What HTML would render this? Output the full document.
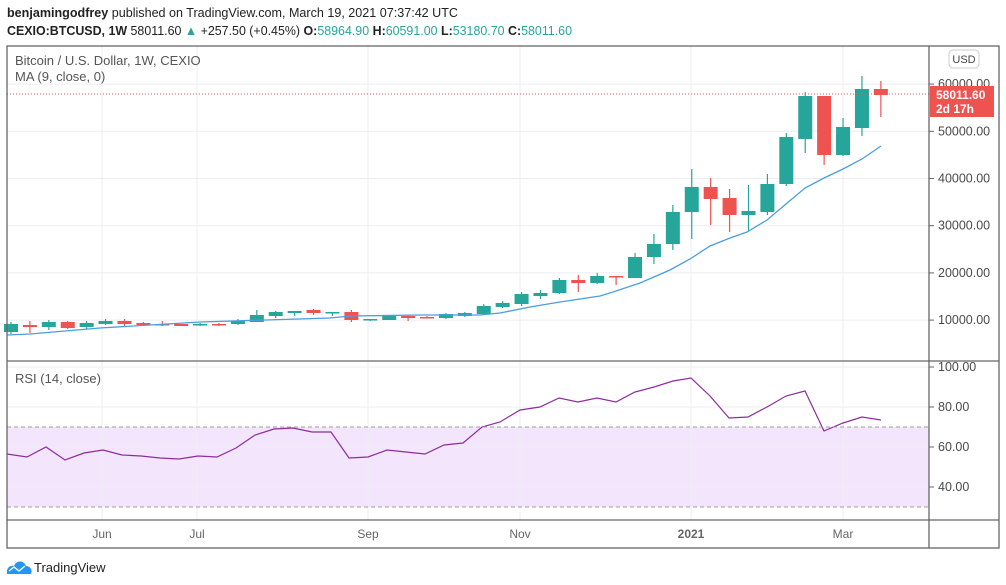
<!DOCTYPE html>
<html><head><meta charset="utf-8"><style>
body{margin:0;background:#fff;width:1006px;height:585px;overflow:hidden}
svg{display:block;font-family:"Liberation Sans",sans-serif}
</style></head><body>
<svg id="s" width="1006" height="585" viewBox="0 0 1006 585">
<text x="7" y="17" font-size="13" fill="#222" textLength="451" lengthAdjust="spacingAndGlyphs"><tspan font-weight="bold">benjamingodfrey</tspan> published on TradingView.com, March 19, 2021 07:37:42 UTC</text>
<text x="7" y="35" font-size="13" fill="#222" textLength="565" lengthAdjust="spacingAndGlyphs"><tspan font-weight="bold">CEXIO:BTCUSD, 1W</tspan> 58011.60 <tspan fill="#26a69a">▲</tspan> +257.50 (+0.45%) <tspan font-weight="bold">O:</tspan><tspan fill="#26a69a">58964.90</tspan> <tspan font-weight="bold">H:</tspan><tspan fill="#26a69a">60591.00</tspan> <tspan font-weight="bold">L:</tspan><tspan fill="#26a69a">53180.70</tspan> <tspan font-weight="bold">C:</tspan><tspan fill="#26a69a">58011.60</tspan></text>
<rect x="7" y="427" width="922" height="80" fill="#f3e5fc"/>
<g id="grid" stroke="#eceef2" stroke-width="1"></g>
<g id="main"></g>
<line x1="7" y1="94" x2="929" y2="94" stroke="#ef5350" stroke-dasharray="1,2"/>
<line x1="7" y1="427" x2="929" y2="427" stroke="#9e9e9e" stroke-dasharray="4,3"/>
<line x1="7" y1="507" x2="929" y2="507" stroke="#9e9e9e" stroke-dasharray="4,3"/>
<g fill="none" stroke="#666" stroke-width="1.3">
<rect x="7" y="46" width="992" height="502"/>
<line x1="929" y1="46" x2="929" y2="548"/>
<line x1="7" y1="361" x2="999" y2="361"/>
<line x1="7" y1="520" x2="999" y2="520"/>
</g>
<text x="15" y="65" font-size="13" fill="#555">Bitcoin / U.S. Dollar, 1W, CEXIO</text>
<text x="15" y="81" font-size="13" fill="#555">MA (9, close, 0)</text>
<text x="15" y="383" font-size="13" fill="#555">RSI (14, close)</text>
<rect x="949" y="50" width="30" height="18" rx="4" fill="#fff" stroke="#ccc"/>
<text x="964" y="63" font-size="11" fill="#444" text-anchor="middle">USD</text>
<g id="ax" font-size="12.5" fill="#4a4a4a"></g>
<rect x="930" y="86" width="64" height="31" fill="#ef5350"/>
<text x="936" y="99" font-size="12" fill="#fff" font-weight="bold">58011.60</text>
<text x="936" y="113" font-size="12" fill="#fff" font-weight="bold">2d 17h</text>
<g font-size="12" fill="#666" text-anchor="middle">
<text x="102" y="538">Jun</text><text x="197" y="538">Jul</text><text x="368" y="538">Sep</text><text x="520" y="538">Nov</text><text x="691" y="538" font-weight="bold">2021</text><text x="843" y="538">Mar</text>
</g>
<path d="M7,574 C6,568 10,565 14,566 C16,560 24,560 26,566 C30,566 33,570 31,574 Z" fill="#2196f3"/>
<path d="M9,571 l5,-4 l5,4 l6,-5" stroke="#fff" fill="none" stroke-width="1.4"/>
<text x="34" y="572" font-size="13" fill="#222">TradingView</text>
</svg>
<script>
const NS="http://www.w3.org/2000/svg";
function el(p,t,a){const e=document.createElementNS(NS,t);for(const k in a)e.setAttribute(k,a[k]);p.appendChild(e);return e;}
const grid=document.getElementById('grid'),main=document.getElementById('main'),ax=document.getElementById('ax');
[102,197,368,520,691,843].forEach(x=>el(grid,'line',{x1:x,y1:46,x2:x,y2:520}));
const py=p=>367.3-4.72*p/1000;
[10000,20000,30000,40000,50000,60000].forEach(p=>{const y=py(p);el(grid,'line',{x1:7,y1:y,x2:929,y2:y});el(ax,'line',{x1:929,y1:y,x2:934,y2:y,stroke:'#666'});const t=el(ax,'text',{x:938,y:y+4});t.textContent=p+'.00';});
[40,60,80,100].forEach(v=>{const y=567-2*v;el(grid,'line',{x1:7,y1:y,x2:929,y2:y});el(ax,'line',{x1:929,y1:y,x2:934,y2:y,stroke:'#666'});const t=el(ax,'text',{x:938,y:y+4});t.textContent=v+'.00';});
const C=[[324,332,322,334,1],[325,327,321,333,0],[322,327,320,330,1],[322,328,321,329,0],[323,327,321,329,1],[321,324,319,325,1],[321,324,319,326,0],[323,325,322,326,0],[324,325,321,326,0],[324,326,324,326,0],[324,325,323,326,1],[324,325,323,326,0],[321,324,319,325,1],[315,322,310,322,1],[312,316,311,318,1],[311,313,311,316,1],[310,313,309,315,0],[312,313,312,316,1],[312,320,310,322,0],[319,320,319,321,1],[316,320,315,320,1],[316,318,315,321,0],[317,318,316,318,0],[314,318,313,319,1],[313,316,312,317,1],[306,314,304,315,1],[303,307,301,308,1],[294,304,292,306,1],[293,296,290,299,1],[280,293,278,294,1],[280,283,275,292,0],[276,283,273,284,1],[276,277,276,285,0],[257,278,253,278,1],[244,257,234,264,1],[212,244,205,250,1],[187,212,169,239,1],[187,199,178,225,0],[198,215,189,232,0],[211,215,185,231,1],[184,212,174,215,1],[137,184,133,186,1],[96,139,92,153,1],[96,155,96,165,0],[127,155,118,156,1],[89,128,76,136,1],[89,95,81,117,0]];
C.forEach((c,i)=>{const x=11+18.91*i,col=c[4]?'#26a69a':'#ef5350';el(main,'line',{x1:x,y1:c[2],x2:x,y2:c[3],stroke:col,'stroke-width':1.2});el(main,'rect',{x:x-7,y:c[0],width:14,height:Math.max(1.5,c[1]-c[0]),fill:col});});
el(main,'polyline',{points:"7,335 30,334 100,328 200,322 330,318 350,316 420,315 480,315 500,313 530,307 560,302 600,296 613,292 640,283 670,270 690,259 710,246 730,238 747,232 767,220 786,204 805,188 824,178 843,169 862,159 881,146",fill:'none',stroke:'#4a9ee0','stroke-width':1.3});
el(main,'polyline',{points:"7,454 27,457 46,447 65,460 84,453 103,450 122,455 141,456 160,458 179,459 198,456 217,457 236,448 255,435 274,429 293,428 312,432 331,432 349,458 368,457 387,450 406,452 425,454 444,445 463,443 482,427 500,422 520,410 540,407 559,398 578,402 597,398 616,402 635,392 654,387 673,381 691,378 710,396 729,418 748,417 767,407 786,396 805,391 824,431 843,423 862,417 881,420",fill:'none',stroke:'#8e2c9e','stroke-width':1.2});
</script>
</body></html>
